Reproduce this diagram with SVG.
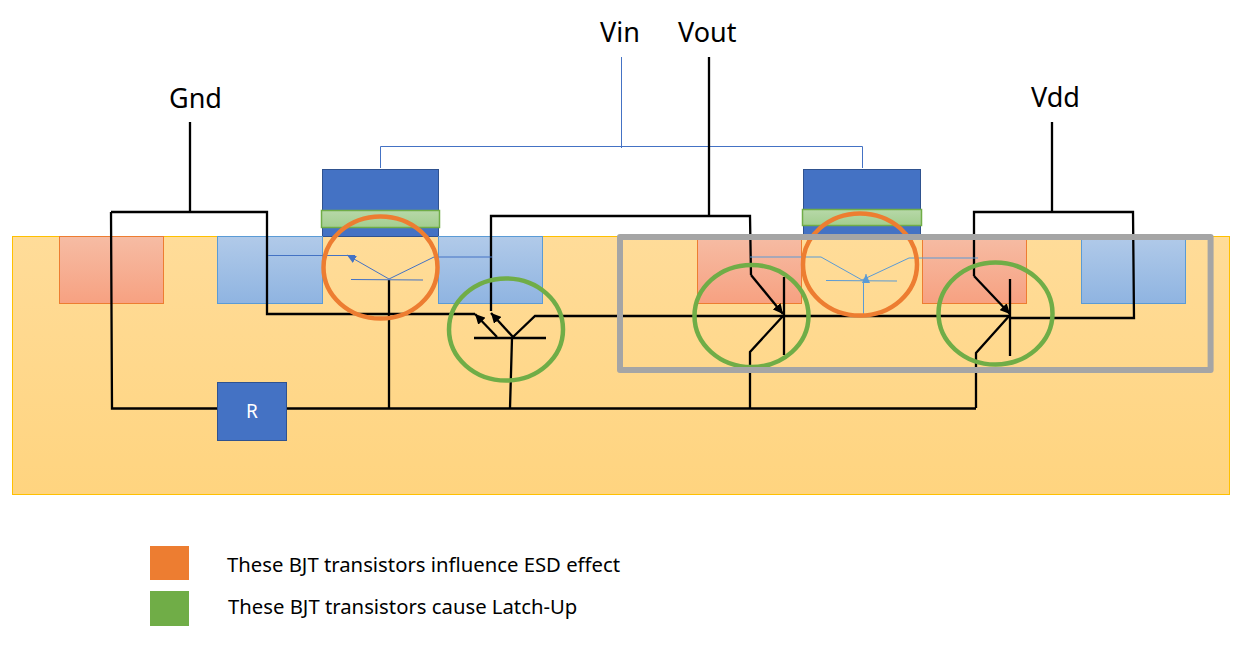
<svg xmlns="http://www.w3.org/2000/svg" width="1244" height="647" viewBox="0 0 1244 647">
<style>
text{font-family:"Noto Sans","Open Sans","Liberation Sans",sans-serif;fill:#000}
.lab{font-size:27px}
.leg{font-size:20.300px}
.gate{fill:#4472C4;stroke:#2F528F;stroke-width:1}
.ox{fill:url(#gOx);stroke:#70AD47;stroke-width:1.5}
.bw{fill:url(#gB);stroke:#5B9BD5;stroke-width:1}
.rw{fill:url(#gR);stroke:#ED7D31;stroke-width:1}
.k{fill:none;stroke:#000;stroke-width:2.300}
.b{fill:none;stroke:#4472C4;stroke-width:1}
.lb{fill:none;stroke:#5B9BD5;stroke-width:1}
.oc{fill:none;stroke:#ED7D31;stroke-width:4.500}
.gc{fill:none;stroke:#70AD47;stroke-width:4.500}
</style>
<defs>
<linearGradient id="gS" x1="0" y1="0" x2="0" y2="1"><stop offset="0" stop-color="#FFDC99"/><stop offset="1" stop-color="#FFD47F"/></linearGradient>
<linearGradient id="gB" x1="0" y1="0" x2="0" y2="1"><stop offset="0" stop-color="#B1CAE9"/><stop offset="1" stop-color="#8FB4E1"/></linearGradient>
<linearGradient id="gR" x1="0" y1="0" x2="0" y2="1"><stop offset="0" stop-color="#F6BCA4"/><stop offset="1" stop-color="#F7A181"/></linearGradient>
<linearGradient id="gOx" x1="0" y1="0" x2="0" y2="1"><stop offset="0" stop-color="#B7D8A8"/><stop offset="1" stop-color="#A3CE8F"/></linearGradient>
<marker id="ak" markerUnits="userSpaceOnUse" markerWidth="12" markerHeight="10" refX="10" refY="5" orient="auto"><path d="M0 0L10 5L0 10z" fill="#000"/></marker>
<marker id="ab" markerUnits="userSpaceOnUse" markerWidth="10" markerHeight="8" refX="9" refY="4" orient="auto"><path d="M0 0L9 4L0 8z" fill="#4472C4"/></marker>
<marker id="al" markerUnits="userSpaceOnUse" markerWidth="10" markerHeight="8" refX="9" refY="4" orient="auto"><path d="M0 0L9 4L0 8z" fill="#5B9BD5"/></marker>
</defs>
<g id="substrate"><rect x="12.500" y="236.500" width="1217" height="258" fill="url(#gS)" stroke="#FFC000" stroke-width="1"/></g>
<g id="gate1"><rect class="gate" x="322.500" y="169.500" width="116" height="67"/></g>
<g id="oxide1"><rect class="ox" x="321.500" y="210.500" width="118" height="17"/></g>
<g id="gate2"><rect class="gate" x="803.500" y="169.500" width="117" height="67"/></g>
<g id="oxide2"><rect class="ox" x="802.500" y="209.500" width="119" height="16"/></g>
<g id="well-p-left"><rect class="rw" x="59.500" y="236.500" width="104" height="67"/></g>
<g id="well-n1"><rect class="bw" x="217.500" y="236.500" width="105" height="67"/></g>
<g id="well-n2"><rect class="bw" x="438.500" y="236.500" width="104" height="67"/></g>
<g id="well-p1"><rect class="rw" x="697.500" y="236.500" width="104" height="67"/></g>
<g id="well-p2"><rect class="rw" x="922.500" y="236.500" width="104" height="67"/></g>
<g id="well-n3"><rect class="bw" x="1081.500" y="236.500" width="104" height="67"/></g>
<g id="R"><rect x="217.500" y="382.500" width="69" height="58" fill="#4472C4" stroke="#2F528F"/><text x="252" y="418" text-anchor="middle" style="fill:#fff;font-size:19px">R</text></g>
<g id="connectors">
<path class="b" d="M621.500 57V148M380.500 168V146.500H862.500V168"/>
<path class="k" d="M190 122V212M111 212H267V314H475M111 212L112 408.500H217M287 408.500H976"/>
<path class="k" d="M389 408V280M510 408L512 338M750 408V352L783 316M976 408V353L1010 315"/>
<path class="k" marker-end="url(#ak)" d="M497 337L475 314"/>
<path class="k" marker-end="url(#ak)" d="M513 337L491 313"/>
<path class="k" d="M474 338H546M513 337L535 316H1009"/>
<path class="k" d="M709 57V216M491 311V216H750L751 275"/>
<path class="k" marker-end="url(#ak)" d="M751 275L783 314"/>
<path class="k" d="M784 277V355"/>
<path class="k" d="M1052 122V212M1010 318H1134L1133 212H974V276"/>
<path class="k" marker-end="url(#ak)" d="M974 276L1010 314"/>
<path class="k" d="M1010 279V356"/>
<path class="b" marker-end="url(#ab)" d="M389 279L347 255"/>
<path class="b" d="M268 255.500H355M389 279L434 257H492M351 279.500L423 280"/>
<path class="lb" marker-end="url(#al)" d="M866 282L866 274"/>
<path class="lb" d="M750 257H821L862 280L909 258H978M826 280.500L897 281M863.500 280V315"/>
</g>
<g id="esd1"><ellipse class="oc" cx="380.500" cy="267.500" rx="57" ry="51"/></g>
<g id="esd2"><ellipse class="oc" cx="860" cy="264.500" rx="57" ry="51"/></g>
<g id="latch1"><ellipse class="gc" cx="506" cy="329.500" rx="57" ry="51"/></g>
<g id="latch2"><ellipse class="gc" cx="751.500" cy="316" rx="57" ry="51"/></g>
<g id="latch3"><ellipse class="gc" cx="995.500" cy="313.500" rx="57" ry="51"/></g>
<g id="highlight"><rect x="620" y="237" width="590.600" height="133" fill="none" stroke="#A5A5A5" stroke-width="6" stroke-linejoin="round"/></g>
<g id="labels">
<text class="lab" x="169" y="108">Gnd</text>
<text class="lab" x="600" y="42">Vin</text>
<text class="lab" x="678" y="42">Vout</text>
<text class="lab" x="1031" y="107">Vdd</text>
</g>
<g id="legend-esd"><rect x="150" y="546" width="39" height="34" fill="#ED7D31"/><text class="leg" x="227" y="572">These BJT transistors influence ESD effect</text></g>
<g id="legend-latch"><rect x="150" y="591" width="39" height="35" fill="#70AD47"/><text class="leg" x="228" y="614">These BJT transistors cause Latch-Up</text></g>
</svg>
